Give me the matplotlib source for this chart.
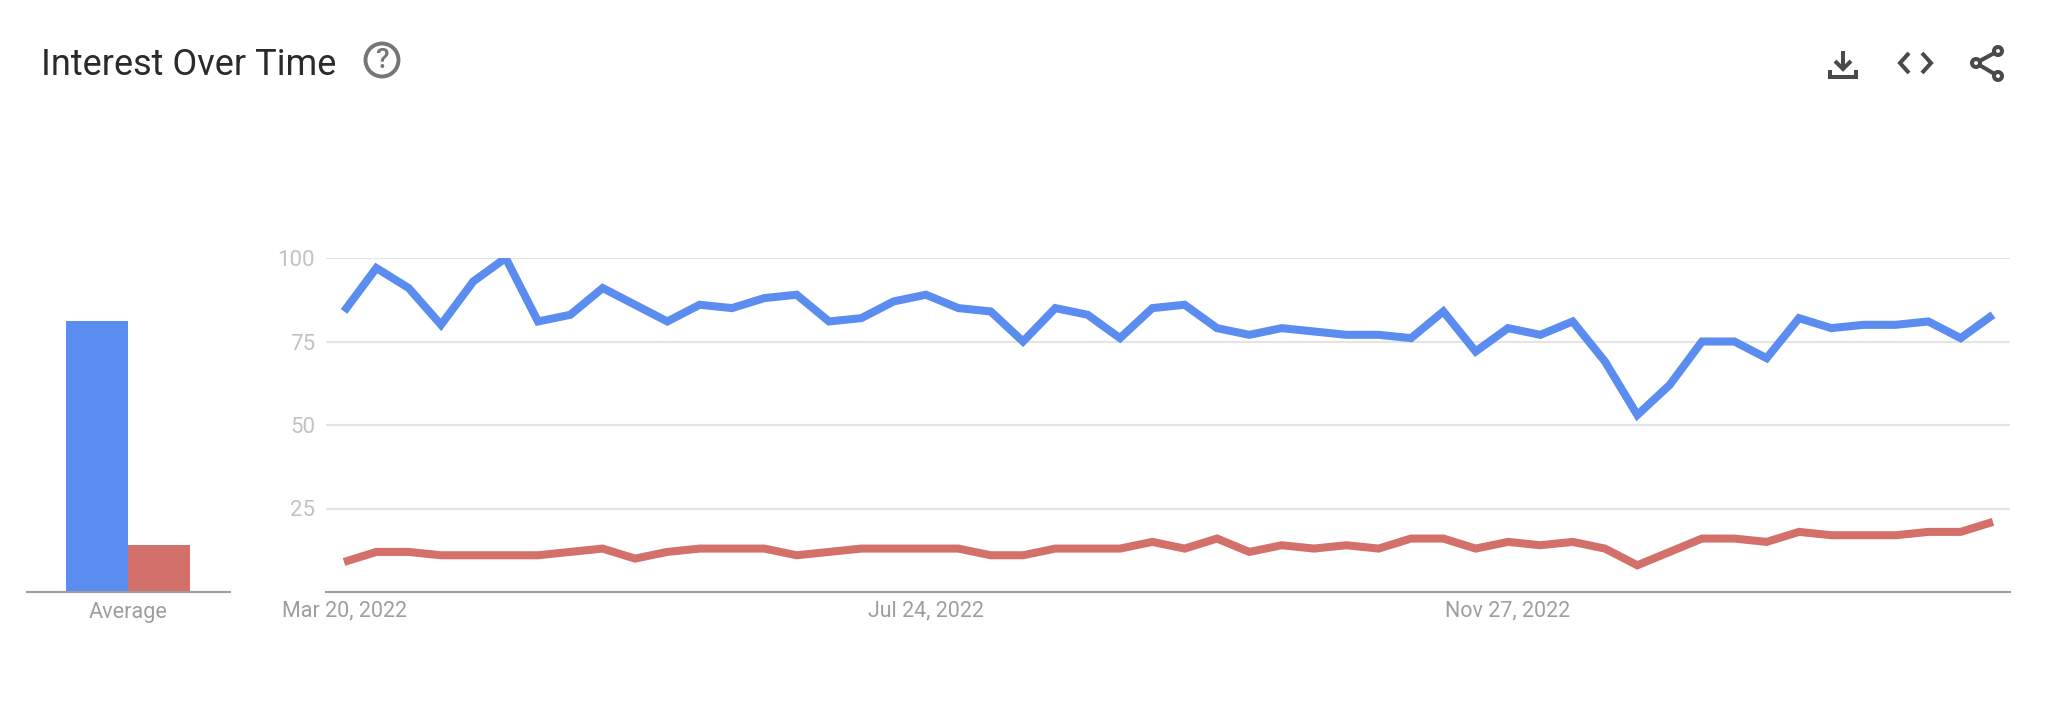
import matplotlib
matplotlib.use("Agg")
import matplotlib.pyplot as plt
from matplotlib.patches import Circle
from matplotlib.lines import Line2D

# values, weekly points
blue_values = [84, 97, 91, 80, 93, 100, 81, 83, 91, 86, 81, 86, 85, 88, 89, 81, 82, 87, 89, 85,
               84, 75, 85, 83, 76, 85, 86, 79, 77, 79, 78, 77, 77, 76, 84, 72, 79, 77, 81, 69,
               53, 62, 75, 75, 70, 82, 79, 80, 80, 81, 76, 83]
red_values = [9, 12, 12, 11, 11, 11, 11, 12, 13, 10, 12, 13, 13, 13, 11, 12, 13, 13, 13, 13,
              11, 11, 13, 13, 13, 15, 13, 16, 12, 14, 13, 14, 13, 16, 16, 13, 15, 14, 15, 13,
              8, 12, 16, 16, 15, 18, 17, 17, 17, 18, 18, 21]
average_values = [81, 14]
date_ticks = [0, 18, 36]
date_labels = ["Mar 20, 2022", "Jul 24, 2022", "Nov 27, 2022"]
y_ticks = [25, 50, 75, 100]

W, H = 2048, 716
BLUE = "#5b8cf0"
RED = "#d4706a"
GRID = "#e4e4e4"
BASE = "#9e9e9e"
ICON = "#4a4a4a"

plt.rcParams["font.family"] = ["Roboto", "DejaVu Sans"]
fig = plt.figure(figsize=(W / 100, H / 100), dpi=100)


def axes_px(left, top, right, bottom):
    return fig.add_axes([left / W, 1 - bottom / H, (right - left) / W, (bottom - top) / H])


# small bars on the left
ax_bar = axes_px(27, 258, 230, 592)
ax_bar.bar([0, 1], average_values, width=1, color=[BLUE, RED])
ax_bar.set_xlim(-1.14, 2.15)
ax_bar.set_ylim(0, 100)
ax_bar.set_yticks([])
ax_bar.set_xticks([0.5])
ax_bar.set_xticklabels(["Average"], fontsize=15.6, color=BASE)
ax_bar.tick_params(axis="x", length=0, pad=7)

# line chart
ax = axes_px(326, 258, 2010, 592)
ax.plot(blue_values, color=BLUE, lw=5.8, solid_joinstyle="miter", solid_capstyle="butt", zorder=3)
ax.plot(red_values, color=RED, lw=5.8, solid_joinstyle="miter", solid_capstyle="butt", zorder=3)
ax.set_xlim(-0.557, 51.526)
ax.set_ylim(0, 100)
ax.set_yticks(y_ticks)
ax.set_yticklabels([str(v) for v in y_ticks], fontsize=16, color="#c2c2c2")
ax.set_xticks(date_ticks)
ax.set_xticklabels(date_labels, fontsize=15.5, color=BASE)
ax.tick_params(axis="x", length=0, pad=6)
ax.tick_params(axis="y", length=0, pad=8)
ax.grid(axis="y", color=GRID, lw=1.6, zorder=0)
ax.set_axisbelow(True)

for a in (ax_bar, ax):
    for side in ("top", "left", "right"):
        a.spines[side].set_visible(False)
    a.spines["bottom"].set_color(BASE)
    a.spines["bottom"].set_linewidth(1.5)

# header, in pixel coordinates
top = fig.add_axes([0, 0, 1, 1])
top.set_xlim(0, W)
top.set_ylim(H, 0)
top.axis("off")
top.patch.set_alpha(0)

top.text(41, 65, "Interest Over Time", fontsize=26, color="#2a2a2a",
         va="center", ha="left")
top.add_patch(Circle((382, 60), 16.5, fill=False, ec="#757575", lw=2.8))
top.text(382, 60, "?", fontsize=20, color="#757575", ha="center", va="center", fontweight="medium")


def icon_line(xs, ys):
    top.add_line(Line2D(xs, ys, color=ICON, lw=2.9, solid_capstyle="butt", solid_joinstyle="miter"))


# download
icon_line([1843, 1843], [51, 69])
icon_line([1835, 1843, 1851], [61, 69, 61])
icon_line([1830, 1830, 1856, 1856], [70, 77, 77, 70])
# code
icon_line([1909, 1900, 1909], [53, 63, 73])
icon_line([1922, 1931, 1922], [53, 63, 73])
# share
icon_line([1976, 1998], [63, 51])
icon_line([1976, 1998], [63, 76])
for cx, cy in [(1976, 63), (1998, 51), (1998, 76)]:
    top.add_patch(Circle((cx, cy), 4, fc="white", ec=ICON, lw=2.9, zorder=4))

fig.savefig("out.png", dpi=100, facecolor="white")
